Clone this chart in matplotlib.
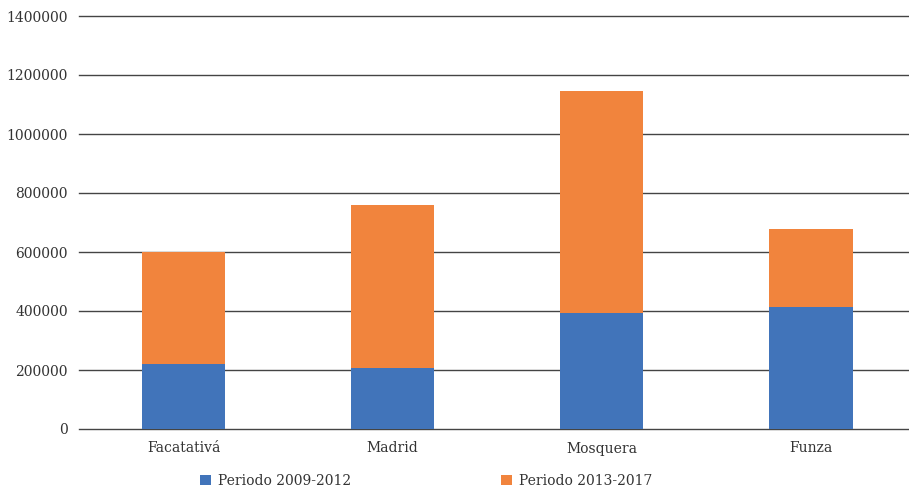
import numpy as np
import matplotlib.pyplot as plt

plt.rcParams['font.family'] = ['DejaVu Serif']

# Data
municipios = ['Facatativá', 'Madrid', 'Mosquera', 'Funza']
periodo_2009_2012 = [221000, 208000, 394000, 414000]
periodo_2013_2017 = [380000, 550000, 751000, 263000]
yticks = [0, 200000, 400000, 600000, 800000, 1000000, 1200000, 1400000]

blue = '#4174BA'
orange = '#F1843D'
text_col = '#333333'

fig = plt.figure(figsize=(9.09, 4.91), dpi=100)
ax = fig.add_axes([79 / 909, 1 - 429 / 491, (909 - 79) / 909, 413 / 491])

x = np.arange(len(municipios))
w = 0.40
b1 = ax.bar(x, periodo_2009_2012, w, color=blue, zorder=3, label='Periodo 2009-2012')
b2 = ax.bar(x, periodo_2013_2017, w, bottom=periodo_2009_2012, color=orange,
            zorder=3, label='Periodo 2013-2017')

ax.set_ylim(0, 1400000)
ax.set_xlim(-0.5, 3.47)
ax.set_yticks(yticks)
ax.set_yticklabels([str(v) for v in yticks])
ax.set_xticks(x)
ax.set_xticklabels(municipios)
for v in yticks:
    ax.axhline(v, color='#444444', linewidth=1.0, zorder=0, clip_on=False)
for s in ax.spines.values():
    s.set_visible(False)
ax.tick_params(axis='both', length=0, labelsize=10, labelcolor=text_col)
ax.tick_params(axis='y', pad=8)
ax.tick_params(axis='x', pad=9)

fig.legend(handles=[b1, b2], loc='center', bbox_to_anchor=(426 / 909, 1 - 481 / 491),
           ncol=2, frameon=False, fontsize=10, handlelength=0.8, handleheight=0.8,
           handletextpad=0.5, columnspacing=10.8, labelcolor=text_col)

fig.savefig('out.png', dpi=100)
